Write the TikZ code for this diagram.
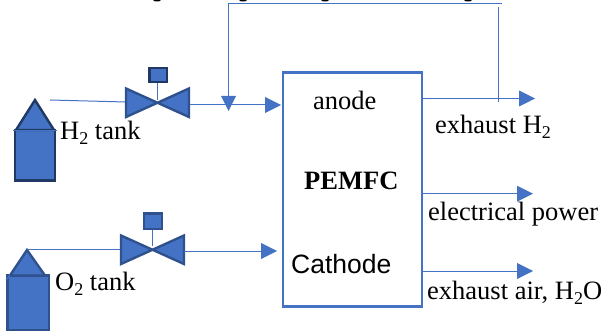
\documentclass[tikz,border=0pt]{standalone}
\usepackage{fontspec}
\setmainfont{Liberation Serif}
\newfontfamily\cathfont{Liberation Sans}
\definecolor{fillblue}{HTML}{4472C4}
\definecolor{darkblue}{HTML}{2F528F}
\definecolor{darkerblue}{HTML}{203864}
\tikzset{
  x=1pt,y=-1pt,
  flow/.style={draw=fillblue,line width=1pt},
  part/.style={fill=fillblue,draw=darkblue,line width=2.4pt,line join=miter},
  darkpart/.style={part,draw=darkerblue},
  lab/.style={inner sep=0pt,anchor=base west,text=black,font=\fontsize{26.5}{28}\selectfont},
}
\newcommand{\sbs}[1]{\raisebox{-0.2em}{\fontsize{18}{18}\selectfont #1}}
\newcommand{\tipright}[2]{\fill[fillblue] (#1,#2-8) -- (#1+16,#2) -- (#1,#2+8) -- cycle;}
\begin{document}
\begin{tikzpicture}
\useasboundingbox (0,0) rectangle (602,334);
% clipped line of text at the top edge
\foreach \xa in {157,243,325,468}
  \fill[black] (\xa-4,0) -- (\xa+4,0) -- (\xa+2,1.5) -- (\xa-2,1.5) -- cycle;
% fuel cell
\node[draw=fillblue,line width=2.2pt,outer sep=0pt,minimum width=139pt,minimum height=234pt,inner sep=0pt,anchor=north west] (cell) at (283,72.5) {};
% H2 tank
\draw[darkpart] (15,130) rectangle (55,180.5);
\draw[darkpart] (16,130) -- (35,100) -- (54,130) -- cycle;
\draw[flow] (13,130.5) -- (57,130.5);
\node[lab] (h2tank) at (60,139.5) {H\sbs{2} tank};
% O2 tank
\draw[part] (7.5,275.5) rectangle (49,330);
\draw[part] (10,275.5) -- (27,250) -- (45,275.5) -- cycle;
\draw[flow] (6,280) -- (10,275);
\node[lab] (o2tank) at (55,290.5) {O\sbs{2} tank};
% H2 valve
\coordinate (v1) at (157.5,100);
\coordinate (a1) at (190,105);
\coordinate (j1) at (228,105);
\coordinate (a2) at (265,105);
\draw[flow] (50,100) -- (126,102);
\draw[part] (126,88.5) -- (189,117) -- (189,88.5) -- (126,117) -- cycle;
\draw[flow] (v1) -- (157.5,82);
\draw[darkpart] (149.5,68) rectangle (167,82);
\draw[flow] (a1) -- (a2);
\tipright{265}{105}
% recycle
\coordinate (r1) at (228,3.5);
\coordinate (r2) at (498.5,3.5);
\coordinate (r3) at (498.5,102);
\draw[flow] (r3) -- (498.5,7);
\draw[flow] (501.5,3.5) -- (r1) -- (228,97);
\fill[fillblue] (221,96) -- (236,96) -- (228.5,111) -- cycle;
% O2 valve
\draw[flow] (27,249) -- (121,249);
\draw[part] (121,235.5) -- (184,264) -- (184,235.5) -- (121,264) -- cycle;
\draw[flow] (152,246) -- (152,229);
\draw[part] (144,213.5) rectangle (162,229);
\draw[flow] (184,251) -- (262,251);
\tipright{261}{251}
% outputs
\draw[flow] (cell.north east |- 0,98.5) -- (520,98.5);
\tipright{519}{98.5}
\draw[flow] (cell.north east |- 0,193.7) -- (518,193.7);
\tipright{517}{193.7}
\draw[flow] (cell.north east |- 0,271) -- (518,271);
\tipright{517}{271}
% labels
\node[lab] (anode) at (313,110) {anode};
\node[lab,font=\bfseries\fontsize{26.5}{28}\selectfont] (pemfc) at (304,189.5) {PEMFC};
\node[lab,font=\cathfont\fontsize{26.5}{28}\selectfont] (cathode) at (291,273) {Cathode};
\node[lab] (ex1) at (435,133.5) {exhaust H\sbs{2}};
\node[lab] (power) at (428,220.5) {electrical power};
\node[lab] (ex2) at (427,299) {exhaust air, H\sbs{2}O};
\end{tikzpicture}
\end{document}
